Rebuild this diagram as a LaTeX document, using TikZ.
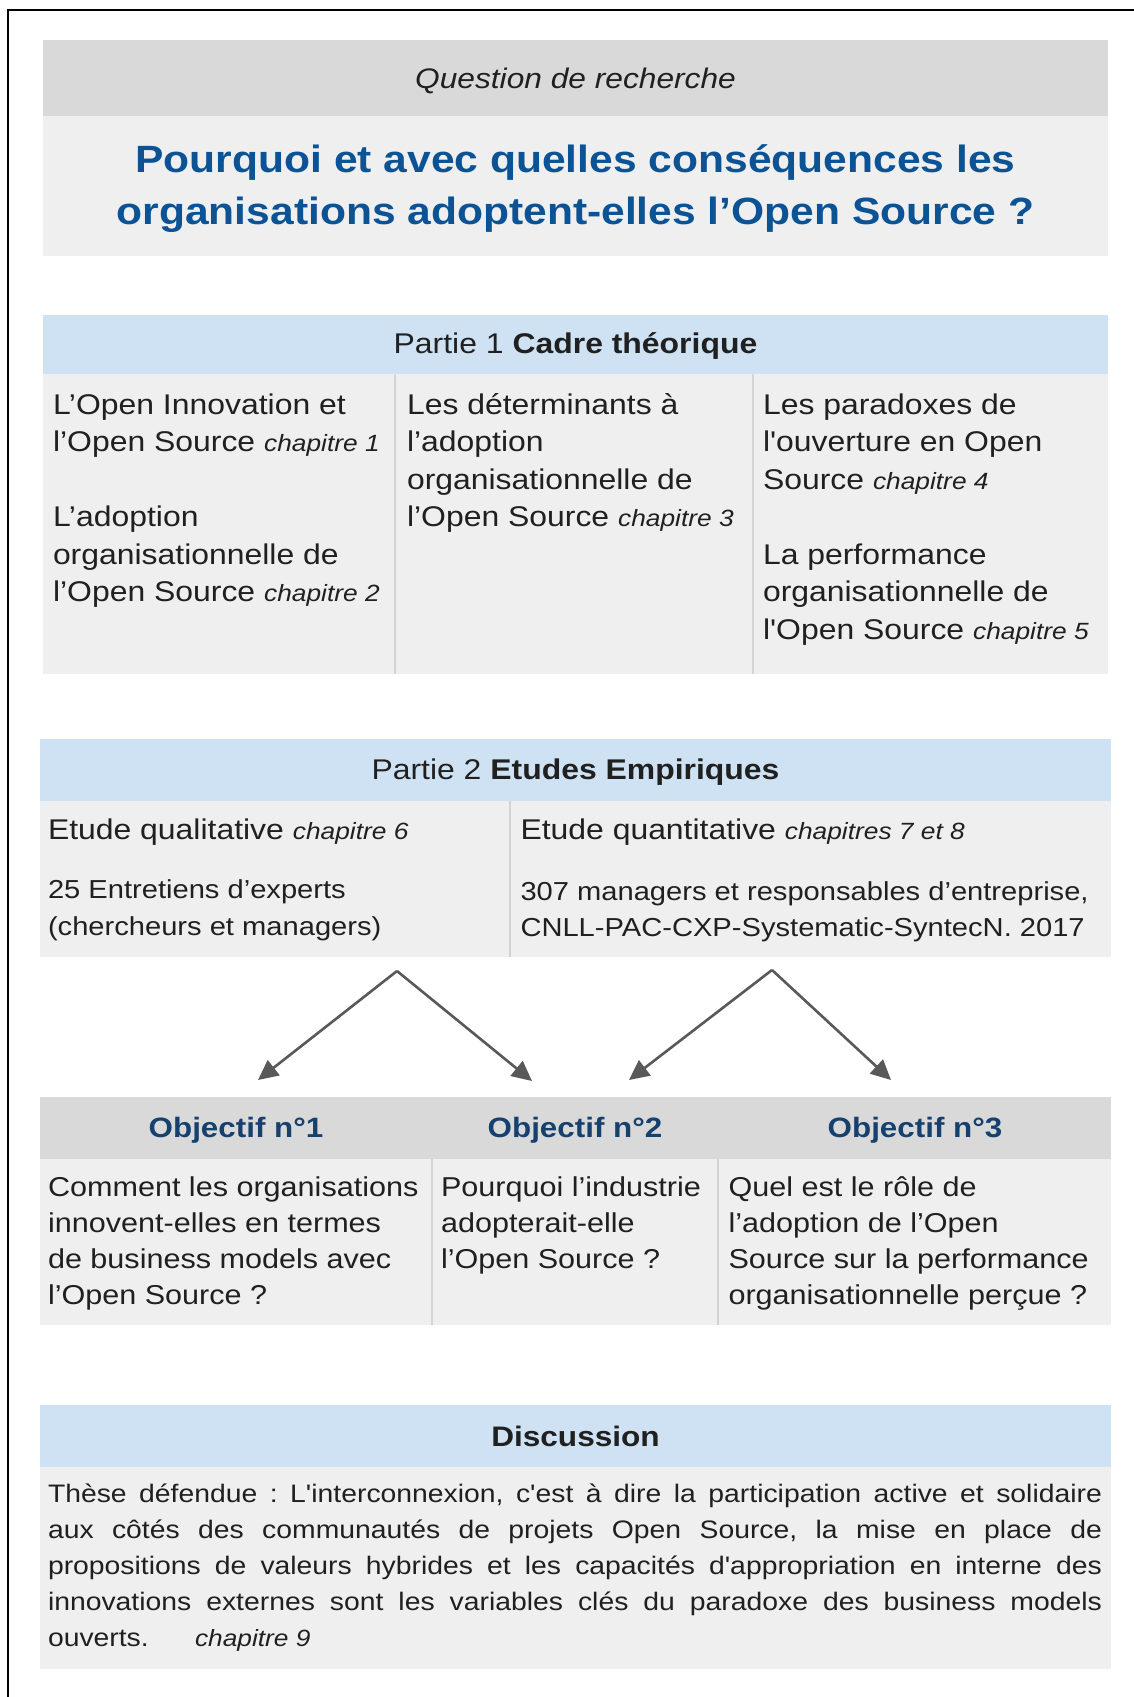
\documentclass[tikz,border=0pt]{standalone}
\usepackage{fontspec}
\setmainfont{Liberation Sans}[FakeStretch=1.12,Ligatures=TeXOff]
\usetikzlibrary{arrows.meta}
\frenchspacing

\definecolor{hdrgray}{HTML}{D9D9D9}
\definecolor{cellgray}{HTML}{EFEFEF}
\definecolor{hdrblue}{HTML}{CFE2F3}
\definecolor{rulegray}{HTML}{D4D4D4}
\definecolor{titleblue}{HTML}{0B5394}
\definecolor{objblue}{HTML}{16416E}
\definecolor{ink}{HTML}{202020}
\definecolor{arrowgray}{HTML}{595959}

\newcommand\fs[2]{\fontsize{#1}{#2}\selectfont}
\newcommand\chap[1]{{\itshape\fontsize{23.5}{28}\selectfont #1}}
\newcommand\block[1]{\parbox[t]{700pt}{\raggedright #1}}

\begin{document}
\begin{tikzpicture}[x=1pt,y=-1pt,
  cell/.style 2 args={rectangle, anchor=north west, inner sep=0pt, outer sep=0pt,
    minimum width=#1, minimum height=#2},
  txt/.style={inner sep=0pt, outer sep=0pt, text=ink, anchor=base west},
  ctxt/.style={inner sep=0pt, outer sep=0pt, text=ink, anchor=base},
  divider/.style={draw=rulegray, line width=1.5pt},
  link/.style={draw=arrowgray, line width=2.6pt,
    -{Triangle[length=20pt,width=19pt]}}]

\useasboundingbox (0,0) rectangle (1134,1697);
\clip (0,0) rectangle (1134,1697);
\fill[white] (0,0) rectangle (1134,1697);

% outer frame (only its left and top edges fall inside the page)
\draw[line width=2pt, black] (8,1720) -- (8,9.5) -- (1160,9.5);

% --- research question ---
\node[cell={1065pt}{76pt}, fill=hdrgray] (qhead) at (43,40) {};
\node[cell={1065pt}{140pt}, fill=cellgray] (qbody) at (43,116) {};
\node[ctxt, font=\fs{28.3}{34}\itshape] (qlabel) at (575.5,88) {Question de recherche};
\node[ctxt, text=titleblue, font=\fs{38}{52}\bfseries] (qtitle) at (575.5,172.5)
  {\parbox[t]{1060pt}{\centering Pourquoi et avec quelles conséquences les\\
   organisations adoptent-elles l’Open Source ?}};

% --- part 1 ---
\node[cell={1065pt}{59pt}, fill=hdrblue] (p1head) at (43,315) {};
\node[cell={1065pt}{300pt}, fill=cellgray] (p1body) at (43,374) {};
\draw[divider] (395,374) -- (395,674);
\draw[divider] (753,374) -- (753,674);
\node[ctxt, font=\fs{28.5}{34}] (p1title) at (575.5,353.5) {Partie 1 \textbf{Cadre théorique}};
\node[txt, font=\fs{28.5}{37.5}] (p1a) at (53,414)
  {\block{L’Open Innovation et\\l’Open Source \chap{chapitre 1}\\[37.5pt]
   L’adoption\\organisationnelle de\\l’Open Source \chap{chapitre 2}}};
\node[txt, font=\fs{28.5}{37.5}] (p1b) at (407,414)
  {\block{Les déterminants à\\l’adoption\\organisationnelle de\\l’Open Source \chap{chapitre 3}}};
\node[txt, font=\fs{28.5}{37.5}] (p1c) at (763,414)
  {\block{Les paradoxes de\\l'ouverture en Open\\Source \chap{chapitre 4}\\[37.5pt]
   La performance\\organisationnelle de\\l'Open Source \chap{chapitre 5}}};

% --- part 2 ---
\node[cell={1071pt}{62pt}, fill=hdrblue] (p2head) at (40,739) {};
\node[cell={1071pt}{156pt}, fill=cellgray] (p2body) at (40,801) {};
\draw[divider] (510,801) -- (510,957);
\node[ctxt, font=\fs{28.5}{34}] (p2title) at (575.5,779.5) {Partie 2 \textbf{Etudes Empiriques}};
\node[txt, font=\fs{28.5}{35}] (qualhead) at (48,839) {Etude qualitative \chap{chapitre 6}};
\node[txt, font=\fs{26}{37}] (qualtext) at (48,898)
  {\block{25 Entretiens d’experts\\(chercheurs et managers)}};
\node[txt, font=\fs{28.5}{35}] (quanthead) at (520.5,839) {Etude quantitative \chap{chapitres 7 et 8}};
\node[txt, font=\fs{26}{36}] (quanttext) at (520.5,900)
  {\block{307 managers et responsables d’entreprise,\\CNLL-PAC-CXP-Systematic-SyntecN. 2017}};

% --- arrows from the two studies to the objectives ---
\coordinate (apexA) at (397,971);
\coordinate (tipA1) at (258,1080);
\coordinate (tipA2) at (532,1081);
\coordinate (apexB) at (772,970);
\coordinate (tipB1) at (629,1080);
\coordinate (tipB2) at (891,1080);
\draw[link] (apexA) -- (tipA1);
\draw[link] (apexA) -- (tipA2);
\draw[link] (apexB) -- (tipB1);
\draw[link] (apexB) -- (tipB2);

% --- objectives ---
\node[cell={1071pt}{62pt}, fill=hdrgray] (objhead) at (40,1097) {};
\node[cell={1071pt}{166pt}, fill=cellgray] (objbody) at (40,1159) {};
\draw[divider] (432,1159) -- (432,1325);
\draw[divider] (718,1159) -- (718,1325);
\node[ctxt, text=objblue, font=\fs{28}{34}\bfseries] (obj1) at (236,1137.5) {Objectif n°1};
\node[ctxt, text=objblue, font=\fs{28}{34}\bfseries] (obj2) at (575,1137.5) {Objectif n°2};
\node[ctxt, text=objblue, font=\fs{28}{34}\bfseries] (obj3) at (915,1137.5) {Objectif n°3};
\node[txt, font=\fs{27.3}{36}] (obj1text) at (48,1196.5)
  {\block{Comment les organisations\\innovent-elles en termes\\de business models avec\\l’Open Source ?}};
\node[txt, font=\fs{27.3}{36}] (obj2text) at (441,1196.5)
  {\block{Pourquoi l’industrie\\adopterait-elle\\l’Open Source ?}};
\node[txt, font=\fs{27.3}{36}] (obj3text) at (728.5,1196.5)
  {\block{Quel est le rôle de\\l’adoption de l’Open\\Source sur la performance\\organisationnelle perçue ?}};

% --- discussion ---
\node[cell={1071pt}{62pt}, fill=hdrblue] (dhead) at (40,1405) {};
\node[cell={1071pt}{202pt}, fill=cellgray] (dbody) at (40,1467) {};
\node[ctxt, font=\fs{28.2}{34}\bfseries] (dtitle) at (575.5,1446) {Discussion};
\node[txt, font=\fs{25.3}{36}] (dtext) at (48,1502)
  {\parbox[t]{1054pt}{%
   \makebox[1054pt][s]{Thèse défendue : L'interconnexion, c'est à dire la participation active et solidaire}\\
   \makebox[1054pt][s]{aux côtés des communautés de projets Open Source, la mise en place de}\\
   \makebox[1054pt][s]{propositions de valeurs hybrides et les capacités d'appropriation en interne des}\\
   \makebox[1054pt][s]{innovations externes sont les variables clés du paradoxe des business models}\\
   \makebox[147pt][l]{ouverts.}\chap{chapitre 9}}};

\end{tikzpicture}
\end{document}
